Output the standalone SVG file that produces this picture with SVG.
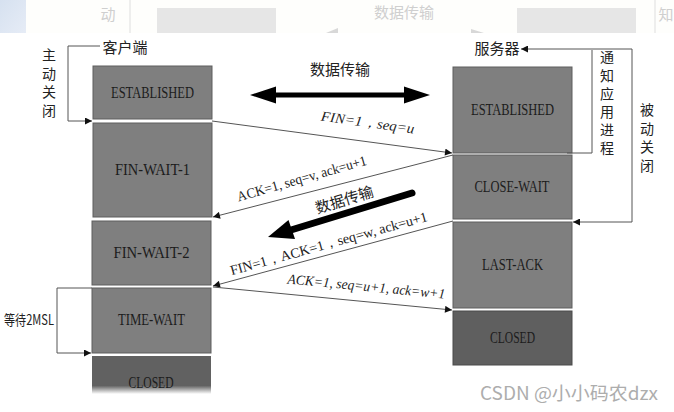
<svg xmlns="http://www.w3.org/2000/svg" width="674" height="412" viewBox="0 0 674 412">
<style>
.box{fill:#7f7f7f;stroke:#5e5e5e;stroke-width:1}
.dark{fill:#5f5f5f;stroke:#4a4a4a;stroke-width:1}
.bl{font-family:"Liberation Serif",serif;font-size:16px;fill:#1c1c1c;text-anchor:middle}
.lbl{font-family:"Liberation Serif",serif;font-size:14px;fill:#222;text-anchor:middle}
.it{font-style:italic}
.cn{font-family:"Noto Sans CJK SC","Noto Sans",sans-serif;font-size:14px;fill:#222;text-anchor:middle}
.vt{font-family:"Noto Sans CJK SC","Noto Sans",sans-serif;font-size:14px;fill:#222;writing-mode:vertical-rl;text-anchor:start}
.ln{fill:none;stroke:#555;stroke-width:1}
.ghost{font-family:"Noto Sans CJK SC",sans-serif;font-size:15px;fill:#cfcfcf}
</style>
<defs>
<marker id="ah" viewBox="0 0 10 10" refX="10" refY="5" markerWidth="8" markerHeight="7" markerUnits="userSpaceOnUse" orient="auto">
<path d="M0,0 L10,5 L0,10 z" fill="#111"/>
</marker>
<linearGradient id="fade" x1="0" y1="0" x2="0" y2="1">
<stop offset="0" stop-color="#616161"/>
<stop offset="0.78" stop-color="#616161"/>
<stop offset="1" stop-color="#ffffff"/>
</linearGradient>
<linearGradient id="blu" x1="0" y1="0" x2="1" y2="1">
<stop offset="0" stop-color="#d6e1f0"/>
<stop offset="1" stop-color="#e6ecf6"/>
</linearGradient>
</defs>
<rect width="674" height="412" fill="#fff"/>
<!-- ghost strip at top -->
<g id="ghost-strip">
<rect x="0" y="0" width="26" height="33" fill="url(#blu)"/>
<rect x="26" y="0" width="648" height="33" fill="#fefefc"/>
<line x1="130" y1="0" x2="130" y2="33" stroke="#dedede"/>
<text x="108" y="20" class="ghost" text-anchor="middle">动</text>
<rect x="157" y="8" width="119" height="25" fill="#e6e6e6"/>
<text x="404" y="18" class="ghost" text-anchor="middle">数据传输</text>
<polygon points="338,28 326,33 338,33" fill="#d8d8d8"/>
<polygon points="471,29 484,33 471,33" fill="#d8d8d8"/>
<rect x="517" y="8" width="119" height="25" fill="#e6e6e6"/>
<line x1="655" y1="0" x2="655" y2="33" stroke="#dedede"/>
<text x="666" y="20" class="ghost" text-anchor="middle">知</text>
</g>
<!-- client side -->
<g id="client-label"><text x="125" y="53" class="cn" style="font-size:15px">客户端</text></g>
<g id="active-close"><text x="49" y="48" class="vt" letter-spacing="4.5">主动关闭</text></g>
<g id="c-established"><rect x="93" y="66" width="119" height="53" class="box"/><text x="152.5" y="98" class="bl" textLength="83" lengthAdjust="spacingAndGlyphs">ESTABLISHED</text></g>
<g id="c-finwait1"><rect x="93" y="123" width="119" height="94" class="box"/><text x="152.5" y="175" class="bl" textLength="75" lengthAdjust="spacingAndGlyphs">FIN-WAIT-1</text></g>
<g id="c-finwait2"><rect x="92" y="221" width="119" height="64" class="box"/><text x="151.5" y="258" class="bl" textLength="76" lengthAdjust="spacingAndGlyphs">FIN-WAIT-2</text></g>
<g id="c-timewait"><rect x="92" y="288" width="119" height="65" class="box"/><text x="151.5" y="325" class="bl" textLength="67" lengthAdjust="spacingAndGlyphs">TIME-WAIT</text></g>
<g id="c-closed"><rect x="92" y="356" width="119" height="38" fill="url(#fade)"/><text x="151" y="388" class="bl" textLength="45" lengthAdjust="spacingAndGlyphs">CLOSED</text></g>
<g id="wait-2msl"><text x="29" y="325" class="cn" style="font-size:14px" textLength="50" lengthAdjust="spacingAndGlyphs">等待2MSL</text></g>
<!-- server side -->
<g id="server-label"><text x="497" y="54" class="cn" style="font-size:15px">服务器</text></g>
<g id="notify-app"><text x="607" y="50" class="vt" letter-spacing="4.2">通知应用进程</text></g>
<g id="passive-close"><text x="647" y="103" class="vt" letter-spacing="4.5">被动关闭</text></g>
<g id="s-established"><rect x="453" y="67" width="119" height="86" class="box"/><text x="512.5" y="115" class="bl" textLength="83" lengthAdjust="spacingAndGlyphs">ESTABLISHED</text></g>
<g id="s-closewait"><rect x="453" y="155" width="119" height="64" class="box"/><text x="512" y="192" class="bl" textLength="75" lengthAdjust="spacingAndGlyphs">CLOSE-WAIT</text></g>
<g id="s-lastack"><rect x="453" y="222" width="119" height="86" class="box"/><text x="512.5" y="270" class="bl" textLength="61" lengthAdjust="spacingAndGlyphs">LAST-ACK</text></g>
<g id="s-closed"><rect x="453" y="311" width="119" height="54" class="dark"/><text x="512.5" y="343" class="bl" textLength="45" lengthAdjust="spacingAndGlyphs">CLOSED</text></g>
<!-- connectors -->
<g id="connectors">
<path d="M100,46 H68 V121 H92" class="ln" marker-end="url(#ah)"/>
<path d="M92,288 H57 V353 H91" class="ln" marker-end="url(#ah)"/>
<path d="M632,49 H521" class="ln" marker-end="url(#ah)"/>
<path d="M567,153 H592 V50" class="ln"/>
<path d="M632,49 V222 H573" class="ln" marker-end="url(#ah)"/>
<line x1="212" y1="121" x2="452" y2="153" class="ln" marker-end="url(#ah)"/>
<line x1="453" y1="155" x2="213" y2="217" class="ln" marker-end="url(#ah)"/>
<line x1="453" y1="221" x2="213" y2="286" class="ln" marker-end="url(#ah)"/>
<line x1="213" y1="287" x2="452" y2="310" class="ln" marker-end="url(#ah)"/>
<!-- data transfer double arrow -->
<rect x="273" y="92.5" width="134" height="5" fill="#000"/>
<polygon points="250,95 276,86.5 276,103.5" fill="#000"/>
<polygon points="430,95 404,86.5 404,103.5" fill="#000"/>
<!-- diagonal thick arrow -->
<line x1="412" y1="193" x2="291" y2="230" stroke="#000" stroke-width="7" stroke-linecap="round"/>
<polygon points="268,237 295,239 288.5,220" fill="#000"/>
</g>
<!-- connector labels -->
<g id="labels">
<text x="0" y="0" class="cn" style="font-size:15px" transform="translate(340,75)">数据传输</text>
<text class="lbl it" transform="translate(367,127) rotate(8)" textLength="94" lengthAdjust="spacingAndGlyphs">FIN=1，seq=u</text>
<text class="lbl" transform="translate(303,183) rotate(-16)" textLength="134" lengthAdjust="spacingAndGlyphs">ACK=1, seq=v, ack=u+1</text>
<text class="cn" style="font-size:15px" transform="translate(346,205) rotate(-17)">数据传输</text>
<text class="lbl" transform="translate(330,248) rotate(-15.5)" textLength="204" lengthAdjust="spacingAndGlyphs">FIN=1，ACK=1，seq=w, ack=u+1</text>
<text class="lbl it" transform="translate(366,291) rotate(5.5)" textLength="158" lengthAdjust="spacingAndGlyphs">ACK=1, seq=u+1, ack=w+1</text>
</g>
<g id="watermark"><text x="480" y="400" font-family="'Noto Sans CJK SC','Noto Sans',sans-serif" font-size="18" fill="#adadad" textLength="178" lengthAdjust="spacingAndGlyphs">CSDN @小小码农dzx</text></g>
</svg>
